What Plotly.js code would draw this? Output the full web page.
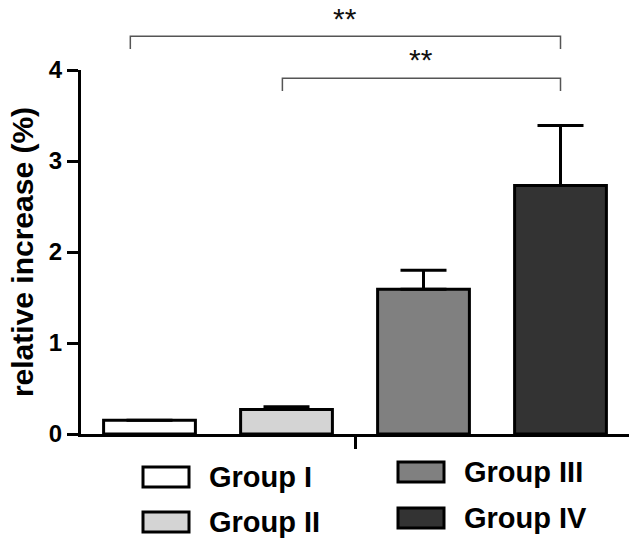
<!DOCTYPE html>
<html>
<head>
<meta charset="utf-8">
<script src="https://cdn.plot.ly/plotly-3.0.1.min.js"></script>
<style>
html,body{margin:0;padding:0;background:#fff;}
#chart{width:637px;height:544px;}
</style>
</head>
<body>
<div id="chart"></div>
<script>
// ---- data ----
var groups = ["Group I", "Group II", "Group III", "Group IV"];
var means = [0.15, 0.27, 1.59, 2.73];
var errorsUp = [0.0, 0.03, 0.21, 0.66];
var fillColors = ["#ffffff", "#d4d4d4", "#808080", "#333333"];
var yTicks = [0, 1, 2, 3, 4];
// significance brackets: category positions and heights in data units
var sigFrom = [-0.14, 0.97];
var sigTo = [3, 3];
var sigTop = [4.37, 3.91];
var sigBottom = [4.23, 3.77];
var sigLabelY = [4.57, 4.11];
var sigLabels = ["**", "**"];

// ---- layout geometry ----
var W = 637, H = 544;
var M = {l: 81, r: 8, t: 70, b: 110};
var yMax = 4;
var plotW = W - M.l - M.r, plotH = H - M.t - M.b;
function pxX(px) { return (px - M.l) / plotW; }
function pxY(py) { return (H - M.b - py) / plotH; }

var zeros = errorsUp.map(function () { return 0; });

var trace = {
  type: "bar",
  x: groups,
  y: means,
  width: 0.67,
  marker: {color: fillColors, line: {color: "#000", width: 3}},
  error_y: {
    type: "data", symmetric: false, array: errorsUp, arrayminus: zeros,
    color: "#000", thickness: 3, width: 23
  },
  showlegend: false,
  hoverinfo: "x+y"
};

var shapes = [];
var annotations = [];

// brackets
for (var i = 0; i < sigFrom.length; i++) {
  var yt = sigTop[i] / yMax, yb = sigBottom[i] / yMax;
  shapes.push({
    type: "path", xref: "x", yref: "paper",
    path: "M " + sigFrom[i] + "," + yb + " L " + sigFrom[i] + "," + yt +
          " L " + sigTo[i] + "," + yt + " L " + sigTo[i] + "," + yb,
    line: {color: "#555", width: 1.5}
  });
  annotations.push({
    xref: "x", yref: "paper",
    x: (sigFrom[i] + sigTo[i]) / 2, y: sigLabelY[i] / yMax,
    text: sigLabels[i], showarrow: false, yanchor: "middle",
    font: {family: "Liberation Sans, Arial, sans-serif", size: 30, color: "#111"}
  });
}

// custom legend (two columns)
var legCol = [143, 143, 398, 398];
var legRow = [477, 522, 472, 518];
for (var j = 0; j < groups.length; j++) {
  shapes.push({
    type: "rect", xref: "paper", yref: "paper",
    x0: pxX(legCol[j]), x1: pxX(legCol[j] + 46),
    y0: pxY(legRow[j] - 10), y1: pxY(legRow[j] + 10),
    fillcolor: fillColors[j], line: {color: "#000", width: 3}
  });
  annotations.push({
    xref: "paper", yref: "paper",
    x: pxX(legCol[j] + 64), y: pxY(legRow[j]),
    xanchor: "left", yanchor: "middle",
    text: groups[j], showarrow: false,
    font: {family: "Liberation Sans, Arial, sans-serif", size: 29, weight: "bold", color: "#000"}
  });
}

var layout = {
  width: W, height: H,
  margin: M,
  paper_bgcolor: "#fff", plot_bgcolor: "#fff",
  bargap: 0.33,
  xaxis: {
    type: "category",
    range: [-0.5, 3.5],
    showline: true, linecolor: "#000", linewidth: 3,
    showgrid: false, zeroline: false,
    showticklabels: false,
    tickmode: "array", tickvals: [1.5], ticktext: [""],
    ticks: "outside", ticklen: 12, tickwidth: 3, tickcolor: "#000",
    fixedrange: true
  },
  yaxis: {
    range: [0, yMax],
    showline: true, linecolor: "#000", linewidth: 3,
    showgrid: false, zeroline: false,
    tickmode: "array", tickvals: yTicks,
    ticks: "outside", ticklen: 11, tickwidth: 3, tickcolor: "#000",
    tickfont: {family: "Liberation Sans, Arial, sans-serif", size: 24, weight: "bold", color: "#000"},
    title: {
      text: "relative increase (%)", standoff: 7,
      font: {family: "Liberation Sans, Arial, sans-serif", size: 30, weight: "bold", color: "#000"}
    },
    automargin: false,
    fixedrange: true
  },
  shapes: shapes,
  annotations: annotations,
  showlegend: false
};

Plotly.newPlot("chart", [trace], layout, {displayModeBar: false, staticPlot: true});
</script>
</body>
</html>
